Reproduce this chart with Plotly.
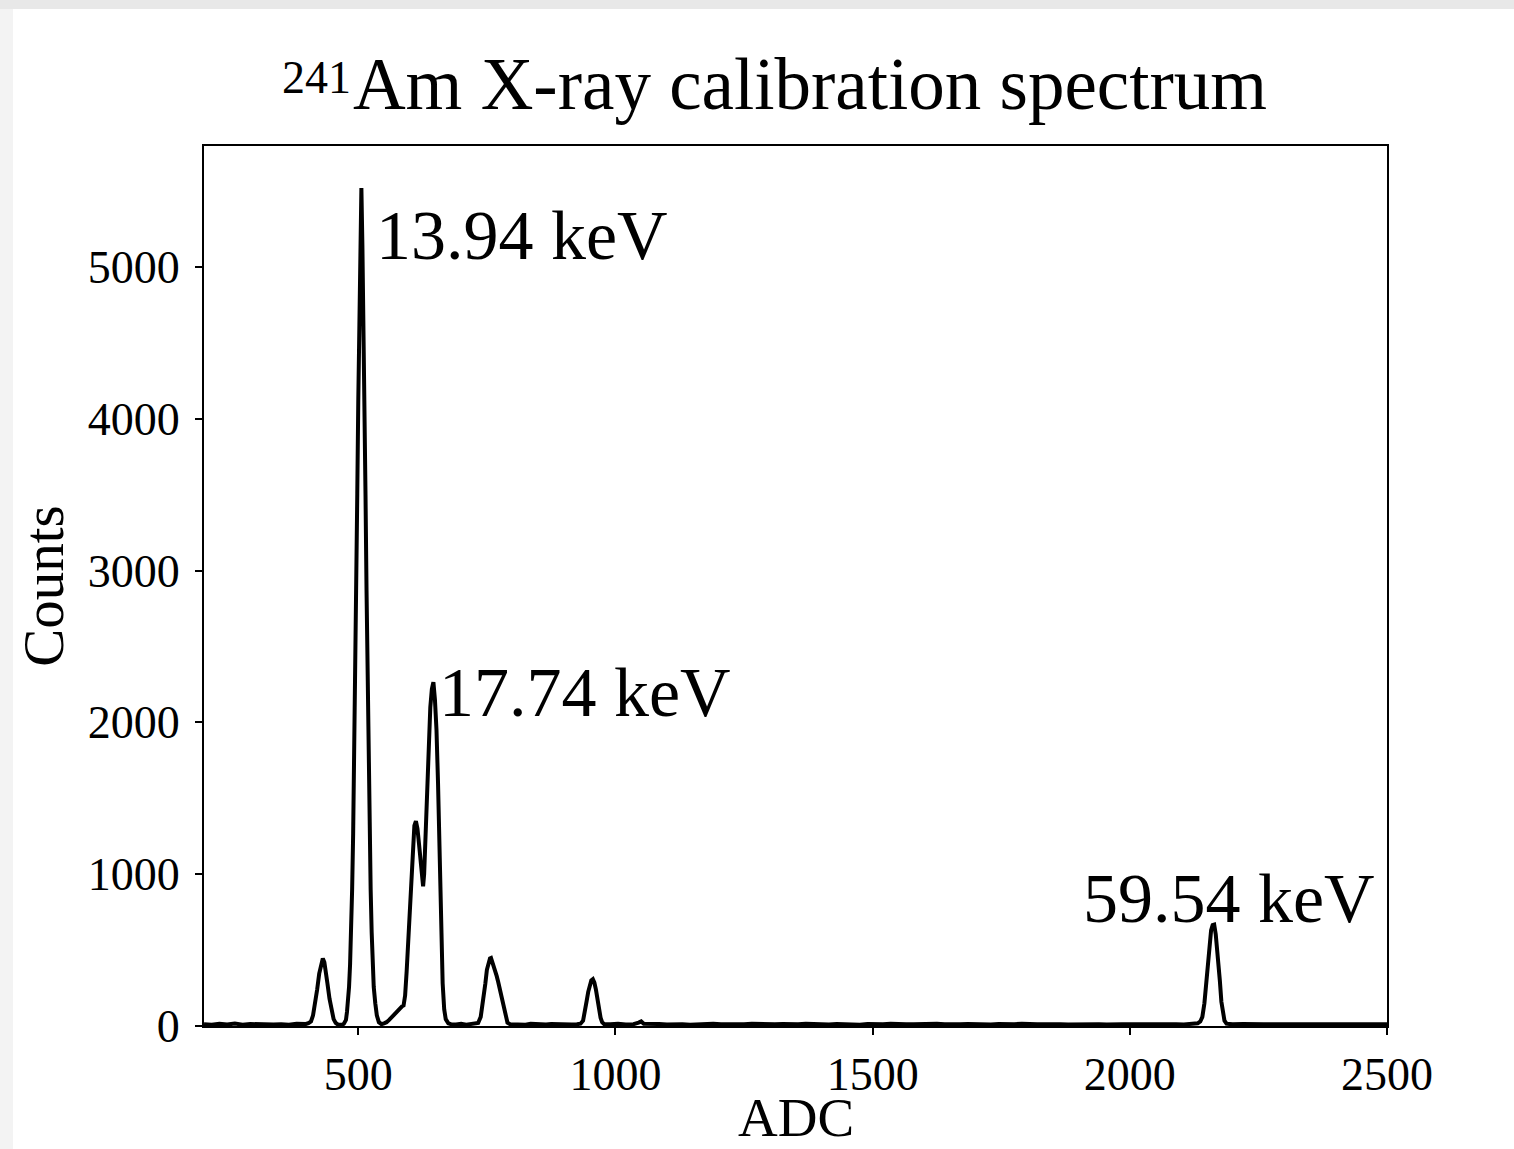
import plotly.graph_objects as go

# ---- data (ADC channel, counts) ----
adc_base_left = [200, 215, 230, 245, 260, 275, 290, 305, 320, 335, 350, 365, 380, 390, 398]
cnt_base_left = [12, 8, 14, 10, 16, 9, 13, 11, 15, 10, 12, 9, 14, 11, 13]

adc_peak_430 = [403, 408, 412, 416, 420, 424, 428, 431, 434, 437, 440, 444, 448, 452, 456, 460, 465]
cnt_peak_430 = [18, 30, 70, 140, 240, 345, 420, 445, 420, 360, 280, 180, 95, 45, 20, 10, 8]

adc_peak_506 = [469, 472, 476, 478, 480, 482, 484, 486, 488, 490, 492, 494, 496, 498, 500, 502,
                504, 506, 508, 510, 512, 514, 516, 518, 520, 522, 524, 526, 528, 530, 533, 536, 540]
cnt_peak_506 = [8, 15, 40, 93, 158, 257, 405, 614, 899, 1270, 1728, 2269, 2872, 3507, 4129, 4690,
                5133, 5520, 5130, 4690, 4120, 3500, 2870, 2260, 1730, 1270, 900, 615, 405, 257, 150, 70, 25]

adc_peak_17 = [545, 550, 555, 560, 565, 570, 575, 580, 585, 588, 591, 594, 597, 600, 603, 606, 609,
               612, 615, 618, 621, 624, 626, 628, 631, 634, 637, 640, 643, 646, 649, 652, 655, 658,
               661, 664, 667, 670, 675, 680]
cnt_peak_17 = [12, 18, 25, 40, 60, 80, 100, 120, 130, 135, 200, 360, 560, 760, 980, 1180, 1320,
               1350, 1300, 1200, 1090, 960, 920, 1000, 1280, 1650, 1920, 2100, 2220, 2265, 2150, 1950,
               1600, 1100, 620, 280, 110, 45, 18, 12]

adc_base_mid1 = [690, 700, 710, 720, 728]
cnt_base_mid1 = [10, 14, 9, 12, 15]

adc_peak_758 = [733, 738, 743, 747, 750, 753, 756, 758, 760, 763, 766, 769, 772, 775, 778, 781,
                784, 787, 790, 795]
cnt_peak_758 = [20, 60, 170, 280, 370, 420, 445, 448, 430, 395, 365, 330, 290, 245, 190, 135,
                85, 45, 22, 12]

adc_base_mid2 = [805, 815, 825, 835, 845, 855, 865, 875, 885, 895, 905, 915, 925, 932]
cnt_base_mid2 = [10, 13, 9, 14, 11, 12, 10, 13, 11, 9, 13, 10, 12, 15]

adc_peak_956 = [937, 941, 944, 947, 950, 953, 956, 959, 962, 965, 968, 971, 974, 978]
cnt_peak_956 = [35, 95, 165, 225, 270, 300, 308, 285, 240, 170, 105, 55, 25, 12]

adc_base_long = [990, 1005, 1020, 1035, 1045, 1050, 1055, 1070, 1085, 1100, 1115, 1130, 1145, 1160,
                 1175, 1190, 1205, 1220, 1235, 1250, 1265, 1280, 1295, 1310, 1325, 1340, 1355,
                 1370, 1385, 1400, 1415, 1430, 1445, 1460, 1475, 1490, 1505, 1520, 1535, 1550,
                 1565, 1580, 1595, 1610, 1625, 1640, 1655, 1670, 1685, 1700, 1715, 1730, 1745,
                 1760, 1775, 1790, 1805, 1820, 1835, 1850, 1865, 1880, 1895, 1910, 1925, 1940,
                 1955, 1970, 1985, 2000, 2015, 2030, 2045, 2060, 2075, 2090, 2105, 2115, 2125, 2132]
cnt_base_long = [11, 14, 10, 12, 22, 30, 15, 11, 13, 10, 14, 12, 9, 13,
                 11, 15, 12, 10, 13, 11, 14, 12, 9, 12, 13, 10, 12,
                 14, 11, 12, 10, 13, 11, 12, 9, 13, 11, 12, 14, 10,
                 12, 11, 13, 10, 14, 12, 9, 12, 13, 11, 12, 10, 13,
                 11, 12, 14, 10, 12, 11, 13, 12, 10, 12, 11, 13, 12,
                 10, 14, 12, 11, 13, 10, 12, 11, 14, 12, 10, 13, 14, 18]

adc_peak_2164 = [2137, 2141, 2145, 2149, 2152, 2155, 2158, 2161, 2164, 2167, 2170, 2172, 2175,
                 2178, 2181, 2184, 2188]
cnt_peak_2164 = [30, 60, 150, 320, 440, 545, 630, 665, 668, 605, 500, 440, 300, 160, 75, 35, 15]

adc_base_right = [2200, 2220, 2240, 2260, 2280, 2300, 2320, 2340, 2360, 2380, 2400, 2420, 2440,
                  2460, 2480, 2500]
cnt_base_right = [11, 13, 10, 12, 11, 13, 10, 12, 11, 13, 10, 12, 11, 13, 10, 12]

peak_labels = ["13.94 keV", "17.74 keV", "59.54 keV"]
label_adc = [531, 653, 1905]
label_counts = [5210, 2195, 843]

title_isotope = "241"
title_text = "Am X-ray calibration spectrum"
x_title = "ADC"
y_title = "Counts"

x_ticks = [500, 1000, 1500, 2000, 2500]
y_ticks = [0, 1000, 2000, 3000, 4000, 5000]

adc = (adc_base_left + adc_peak_430 + adc_peak_506 + adc_peak_17 + adc_base_mid1 + adc_peak_758
       + adc_base_mid2 + adc_peak_956 + adc_base_long + adc_peak_2164 + adc_base_right)
counts = (cnt_base_left + cnt_peak_430 + cnt_peak_506 + cnt_peak_17 + cnt_base_mid1 + cnt_peak_758
          + cnt_base_mid2 + cnt_peak_956 + cnt_base_long + cnt_peak_2164 + cnt_base_right)

FONT = "Liberation Serif"
W, H = 1514, 1149
L, R, T, B = 204, 127, 146, 123
PW, PH = W - L - R, H - T - B


def px_to_paper_x(px):
    return (px - L) / PW


def px_to_paper_y(py):
    return (H - B - py) / PH


fig = go.Figure()
fig.add_trace(go.Scatter(x=adc, y=counts, mode="lines",
                         line=dict(color="black", width=4), showlegend=False,
                         hoverinfo="skip"))

for txt, xa, ya in zip(peak_labels, label_adc, label_counts):
    fig.add_annotation(x=xa, y=ya, text=txt, showarrow=False, xanchor="left", yanchor="middle",
                       font=dict(family=FONT, size=70, color="black"))

# superscript mass number of the title
fig.add_annotation(xref="paper", yref="paper", x=px_to_paper_x(316), y=px_to_paper_y(77),
                   text=title_isotope, showarrow=False, xanchor="center", yanchor="middle",
                   font=dict(family=FONT, size=46, color="black"))

# x-axis title near the bottom edge of the page
fig.add_annotation(xref="paper", yref="paper", x=px_to_paper_x(796), y=px_to_paper_y(1117),
                   text=x_title, showarrow=False, xanchor="center", yanchor="middle",
                   font=dict(family=FONT, size=55, color="black"))

# page background (grey border with white card)
fig.add_shape(type="rect", xref="paper", yref="paper",
              x0=px_to_paper_x(0), x1=px_to_paper_x(13), y0=px_to_paper_y(H), y1=px_to_paper_y(9),
              fillcolor="#f3f3f3", line=dict(width=0), layer="below")
fig.add_shape(type="rect", xref="paper", yref="paper",
              x0=px_to_paper_x(13), x1=px_to_paper_x(W), y0=px_to_paper_y(H), y1=px_to_paper_y(9),
              fillcolor="white", line=dict(width=0), layer="below")

axis_common = dict(showline=True, mirror=True, linecolor="black", linewidth=2,
                   ticks="outside", ticklen=7, tickwidth=1.8, tickcolor="black",
                   showgrid=False, zeroline=False,
                   tickfont=dict(family=FONT, size=46, color="black"))

fig.update_xaxes(range=[200, 2500], tickvals=x_ticks, **axis_common)
fig.update_yaxes(range=[0, 5797], tickvals=y_ticks, ticklabelstandoff=6,
                 title=dict(text=y_title, font=dict(family=FONT, size=57, color="black"), standoff=6),
                 **axis_common)

fig.update_layout(
    width=W, height=H,
    margin=dict(l=L, r=R, t=T, b=B, autoexpand=False),
    paper_bgcolor="#e8e8e8", plot_bgcolor="white",
    title=dict(text=title_text, xref="container", x=810 / W,
               xanchor="center", yref="container", y=1 - 83 / H, yanchor="middle",
               font=dict(family=FONT, size=73, color="black")),
)

fig.write_html("out.html", config={"displayModeBar": False})
